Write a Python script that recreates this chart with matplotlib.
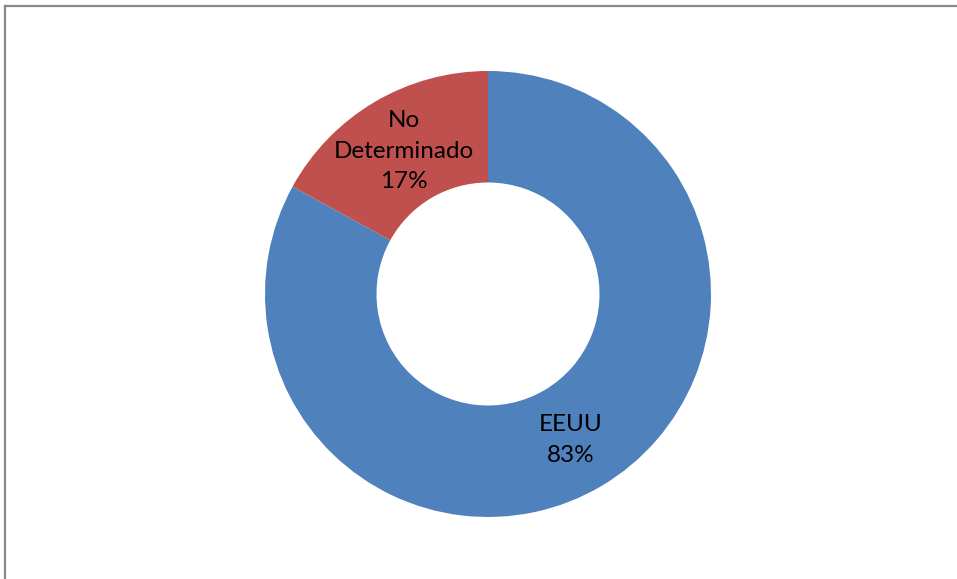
import matplotlib
matplotlib.use("Agg")
import matplotlib.pyplot as plt
from matplotlib.lines import Line2D

categories = ["EEUU", "No\nDeterminado"]
values = [83, 17]
colors = ["#4F81BD", "#C0504D"]

W, H = 957, 579
fig = plt.figure(figsize=(W / 100, H / 100), dpi=100)
ax = fig.add_axes([0, 0, 1, 1])
R = 223.0
cx, cy = 488.0, 294.0

wedges, _ = ax.pie(values, colors=colors, startangle=90, counterclock=False,
                   radius=1.0, wedgeprops=dict(width=0.5, linewidth=0))
ax.set_xlim(-cx / R, (W - cx) / R)
ax.set_ylim(-(H - cy) / R, cy / R)
ax.set_aspect("equal")
ax.axis("off")

total = sum(values)
label_pos = [(0.372, -0.655), (-0.377, 0.641)]
for cat, v, (x, y) in zip(categories, values, label_pos):
    ax.text(x, y, f"{cat}\n{round(100 * v / total)}%", ha="center", va="center",
            fontsize=17.5, family="Lato", linespacing=1.58, color="black")

# outer border of the chart area
fig.add_artist(Line2D([4.5 / W, 1.0], [1 - 5.5 / H, 1 - 5.5 / H], color="#878787",
                      lw=1.6, transform=fig.transFigure))
fig.add_artist(Line2D([4.5 / W, 4.5 / W], [1 - 5.5 / H, 0], color="#878787",
                      lw=1.6, transform=fig.transFigure))

fig.savefig("out.png", dpi=100)
